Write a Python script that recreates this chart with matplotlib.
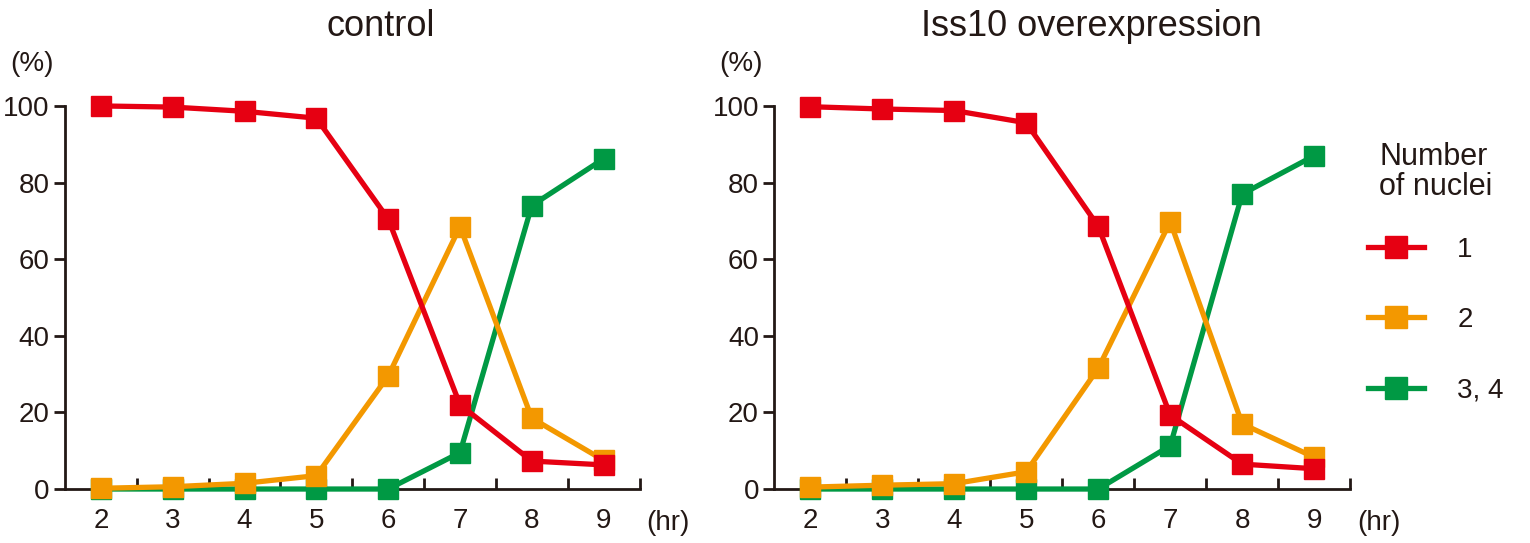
import matplotlib
matplotlib.use("Agg")
import matplotlib.pyplot as plt
from matplotlib.ticker import FixedLocator
from matplotlib.transforms import offset_copy

plt.rcParams['font.family'] = ['Liberation Sans', 'DejaVu Sans']

hours = [2, 3, 4, 5, 6, 7, 8, 9]
y_ticks = [0, 20, 40, 60, 80, 100]
series_labels = ["1", "2", "3, 4"]
panel_titles = ["control", "Iss10 overexpression"]

# control
ctrl_one = [100, 99.7, 98.6, 96.8, 70.5, 22.0, 7.3, 6.3]
ctrl_two = [0.2, 0.6, 1.5, 3.5, 29.5, 68.5, 18.5, 7.5]
ctrl_three_four = [0, 0, 0, 0, 0, 9.5, 74.0, 86.2]

# Iss10 overexpression
oe_one = [99.8, 99.2, 98.8, 95.6, 68.6, 19.3, 6.5, 5.3]
oe_two = [0.5, 1.0, 1.4, 4.5, 31.5, 69.8, 17.0, 8.3]
oe_three_four = [0, 0, 0, 0, 0, 11.3, 77.0, 87.0]

colors = ["#E60012", "#F39800", "#009944"]
layer = [5, 4, 3]  # red over orange over green
ink = "#231815"

fig = plt.figure(figsize=(15.3, 5.43), dpi=100)
ax1 = fig.add_axes([0.0425, 0.0994, 0.3755, 0.7055])
ax2 = fig.add_axes([0.506, 0.0994, 0.3765, 0.7055])

panels = [(ax1, [ctrl_one, ctrl_two, ctrl_three_four]),
          (ax2, [oe_one, oe_two, oe_three_four])]

for (ax, data), title in zip(panels, panel_titles):
    for idx in range(3):
        ax.plot(hours, data[idx], color=colors[idx], lw=3.8, marker="s",
                markersize=14, clip_on=False, zorder=layer[idx],
                label=series_labels[idx])
    ax.set_xlim(1.5, 9.5)
    ax.set_ylim(0, 100)
    for side in ["top", "right"]:
        ax.spines[side].set_visible(False)
    for side in ["left", "bottom"]:
        ax.spines[side].set_color(ink)
        ax.spines[side].set_linewidth(2)
    ax.set_xticks(hours)
    ax.xaxis.set_minor_locator(FixedLocator([h + 0.5 for h in hours]))
    ax.tick_params(axis="x", which="major", length=0, pad=14, labelsize=20, labelcolor=ink)
    ax.tick_params(axis="x", which="minor", direction="in", length=8, width=2, color=ink)
    ax.set_yticks(y_ticks)
    ax.tick_params(axis="y", direction="out", length=8, width=2, color=ink,
                   pad=3, labelsize=20, labelcolor=ink)
    ax.set_title(title, fontsize=26, color=ink, pad=50, x=0.55)
    pct_tr = offset_copy(ax.transAxes, fig=fig, x=-55, y=0, units="dots")
    ax.text(0, 1.11, "(%)", transform=pct_tr, fontsize=20, color=ink,
            ha="left", va="center")
    ax.text(1.012, -0.088, "(hr)", transform=ax.transAxes, fontsize=20, color=ink,
            ha="left", va="center")

handles, labels = ax2.get_legend_handles_labels()
leg = ax2.legend(handles, labels,
                 title="Number\nof nuclei", loc="upper left",
                 bbox_to_anchor=(1.012, 0.935), frameon=False, fontsize=20,
                 title_fontsize=22, handlelength=2.0, handletextpad=1.2,
                 labelspacing=1.6, borderaxespad=0, markerscale=1.15)
leg._legend_box.sep = 25
leg.get_title().set_color(ink)
leg.get_title().set_linespacing(1.0)
for t in leg.get_texts():
    t.set_color(ink)

fig.savefig("out.png", dpi=100)
